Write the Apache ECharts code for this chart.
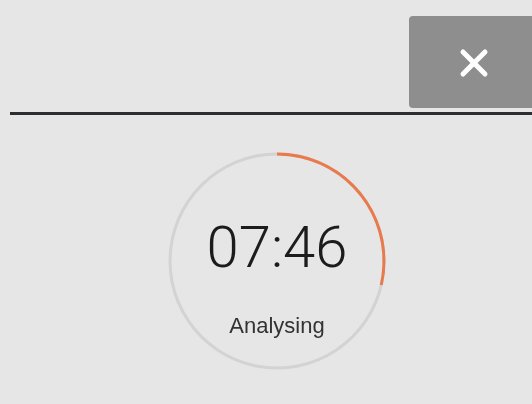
<!DOCTYPE html>
<html>
<head>
<meta charset="utf-8">
<script src="https://cdn.jsdelivr.net/npm/echarts@6/dist/echarts.min.js"></script>
<style>
  html, body { margin: 0; padding: 0; background: #e6e6e6; }
  #chart { width: 532px; height: 404px; }
</style>
</head>
<body>
<div id="chart"></div>
<script>
// timer state
var statusLabels = ['Analysing'];
var timeLabels = ['07:46'];
var progressValues = [28.6]; // percent of the ring done

var myChart = echarts.init(document.getElementById('chart'));

var option = {
    backgroundColor: '#e6e6e6',
    animation: false,
    graphic: [
        // top divider
        {
            type: 'rect',
            shape: { x: 10, y: 112, width: 522, height: 3 },
            style: { fill: '#2b2f31' }
        },
        // close button
        {
            type: 'rect',
            shape: { x: 409, y: 16, width: 130, height: 92, r: 4 },
            style: { fill: '#8e8e8e' }
        },
        {
            type: 'line',
            shape: { x1: 463, y1: 52, x2: 485, y2: 74 },
            style: { stroke: '#ffffff', lineWidth: 5, lineCap: 'round' }
        },
        {
            type: 'line',
            shape: { x1: 485, y1: 52, x2: 463, y2: 74 },
            style: { stroke: '#ffffff', lineWidth: 5, lineCap: 'round' }
        }
    ],
    series: [
        {
            name: 'timer',
            type: 'gauge',
            center: [277, 261],
            radius: 108.5,
            startAngle: 90,
            endAngle: -270,
            min: 0,
            max: 100,
            pointer: { show: false },
            axisTick: { show: false },
            splitLine: { show: false },
            axisLabel: { show: false },
            axisLine: {
                lineStyle: { width: 3, color: [[1, '#d3d3d3']] }
            },
            progress: {
                show: true,
                width: 3,
                roundCap: false,
                itemStyle: { color: '#e97a4b' }
            },
            title: {
                offsetCenter: [0, 66],
                fontSize: 22,
                fontFamily: 'Liberation Sans',
                color: '#333333'
            },
            detail: {
                offsetCenter: [0, -9],
                fontSize: 58,
                fontWeight: 300,
                fontFamily: 'Roboto',
                color: '#1c1c1c',
                formatter: function () { return timeLabels[0]; }
            },
            data: [
                { value: progressValues[0], name: statusLabels[0] }
            ]
        }
    ]
};

myChart.setOption(option);
</script>
</body>
</html>
